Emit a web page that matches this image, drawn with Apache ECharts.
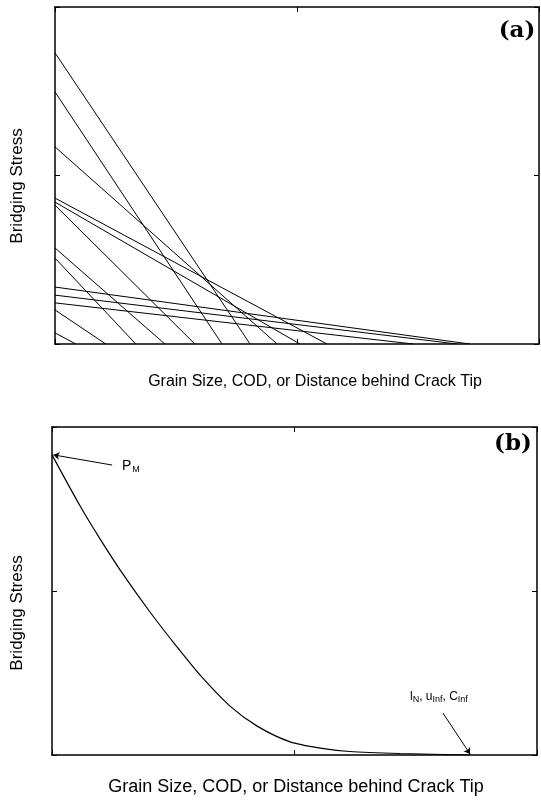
<!DOCTYPE html>
<html>
<head>
<meta charset="utf-8">
<script src="https://cdn.jsdelivr.net/npm/echarts@6/dist/echarts.min.js"></script>
<style>html,body{margin:0;padding:0;background:#fff;}#c{width:541px;height:812px;}</style>
</head>
<body>
<div id="c"></div>
<script>
// Panel (a): linear bridging laws, stress intercept (y) and distance intercept (x)
const aStarts = [86.4, 74.8, 58.5, 43.3, 42.1, 41.2, 28.5, 25.5, 16.9, 14.5, 12.2, 10.1, 3.3];
const aEnds   = [40.3, 34.5, 45.9, 56.2, 50.6, 28.9, 22.7, 16.7, 85.7, 83.1, 74.0, 10.5, 4.3];
// Panel (b): envelope curve
const bX = [0, 5.8, 9.9, 14.6, 20.2, 25.8, 30.5, 36.7, 42.3, 49.1, 55.3, 61.4, 71.8, 86.2];
const bY = [91.5, 75.9, 65.9, 55.2, 43.6, 32.9, 24.4, 14.9, 8.8, 4.0, 2.1, 1.07, 0.46, 0.0];
// Annotation arrows (data units)
const pmArrow = [[12.4, 88.4], [0.3, 91.5]];
const lnArrow = [[80.6, 12.8], [86.2, 0.3]];
const xTitle = 'Grain Size, COD, or Distance behind Crack Tip';
const yTitle = 'Bridging Stress';

const chart = echarts.init(document.getElementById('c'), null, {renderer: 'canvas'});
const FONT = '"Liberation Sans", Arial, sans-serif';

function ax(gridIndex, position) {
  return {
    type: 'value', gridIndex: gridIndex, position: position, min: 0, max: 100, interval: 50,
    axisLine: {show: true, onZero: false, lineStyle: {color: '#000', width: 1.5}},
    axisTick: {show: true, inside: true, length: 5, lineStyle: {color: '#000', width: 1}},
    axisLabel: {show: false}, splitLine: {show: false}
  };
}

const series = [];
aStarts.forEach(function (s, i) {
  series.push({
    type: 'line', xAxisIndex: 0, yAxisIndex: 0, data: [[0, s], [aEnds[i], 0]],
    showSymbol: false, symbol: 'none', silent: true,
    lineStyle: {color: '#000', width: 1}
  });
});
series.push({
  type: 'line', xAxisIndex: 2, yAxisIndex: 2,
  data: bX.map(function (x, i) { return [x, bY[i]]; }),
  smooth: 0.25, showSymbol: false, symbol: 'none', silent: true,
  lineStyle: {color: '#000', width: 1.2},
  markLine: {
    silent: true, symbol: ['none', 'arrow'], symbolSize: 6, animation: false,
    label: {show: false},
    lineStyle: {color: '#000', width: 1, type: 'solid'},
    data: [
      [{coord: pmArrow[0]}, {coord: pmArrow[1]}],
      [{coord: lnArrow[0]}, {coord: lnArrow[1]}]
    ]
  }
});

function txt(x, y, text, size, opts) {
  opts = opts || {};
  return {
    type: 'text', x: x, y: y, rotation: opts.rotation || 0, silent: true,
    style: {
      text: text, fill: '#000', fontSize: size,
      fontFamily: opts.family || FONT, fontWeight: opts.weight || 'normal',
      align: opts.align || 'center', verticalAlign: 'middle',
      textAlign: opts.align || 'center', textVerticalAlign: 'middle',
      rich: opts.rich
    }
  };
}

chart.setOption({
  animation: false,
  backgroundColor: '#fff',
  grid: [
    {left: 55, top: 7, width: 484, height: 337},
    {left: 52, top: 427, width: 485, height: 328}
  ],
  xAxis: [ax(0, 'bottom'), ax(0, 'top'), ax(1, 'bottom'), ax(1, 'top')],
  yAxis: [ax(0, 'left'), ax(0, 'right'), ax(1, 'left'), ax(1, 'right')],
  series: series,
  graphic: [
    txt(17, 186, yTitle, 17, {rotation: Math.PI / 2}),
    txt(17, 613, yTitle, 17, {rotation: Math.PI / 2}),
    txt(315, 382, xTitle, 16),
    txt(296, 787, xTitle, 18),
    txt(517, 31, '(a)', 23, {family: '"DejaVu Serif", serif', weight: 'bold'}),
    txt(513, 444, '(b)', 23, {family: '"DejaVu Serif", serif', weight: 'bold'}),
    txt(122, 466, '{p|P}{s|M}', 13, {align: 'left', rich: {
      p: {fontSize: 14, fontFamily: FONT, fill: '#000'},
      s: {fontSize: 9, fontFamily: FONT, fill: '#000', padding: [8, 0, 0, 1]}
    }}),
    txt(410, 697, '{p|l}{s|N}{p|, u}{s|Inf}{p|, C}{s|Inf}', 12, {align: 'left', rich: {
      p: {fontSize: 12, fontFamily: FONT, fill: '#000'},
      s: {fontSize: 9, fontFamily: FONT, fill: '#000', padding: [6, 0, 0, 0]}
    }})
  ]
});
</script>
</body>
</html>
